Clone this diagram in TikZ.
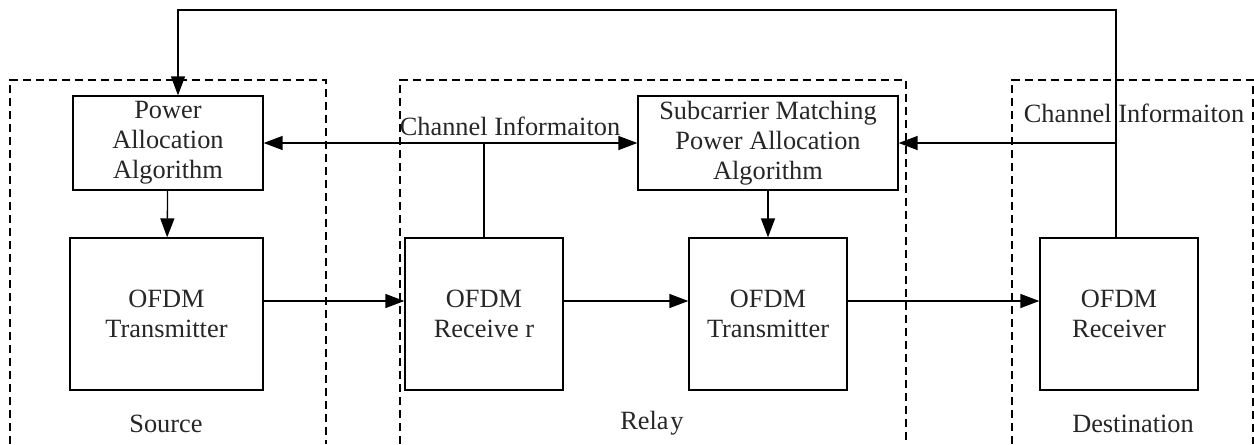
\documentclass[tikz,border=0pt]{standalone}
\usepackage{fontspec}
\setmainfont{Liberation Serif}
\usetikzlibrary{arrows.meta,calc}
\begin{document}
\begin{tikzpicture}[x=0.02cm,y=-0.02cm,
  font=\fontsize{15}{17}\selectfont,
  blk/.style={draw,line width=0.75pt,align=center,inner sep=0pt,text=black!85},
  grp/.style={draw,line width=0.75pt,dash pattern=on 0.16cm off 0.1cm},
  arr/.style={line width=0.75pt,-{Triangle[length=0.38cm,width=0.28cm]}},
  ln/.style={line width=0.75pt},
  lbl/.style={text=black!85,inner sep=0pt}]
\useasboundingbox (0,0) rectangle (1254,444);
% groups
\draw[grp] (10,444) -- (10,80) -- (326,80) -- (326,444);
\draw[grp] (400,444) -- (400,80) -- (906,80) -- (906,444);
\draw[grp] (1012,444) -- (1012,80) -- (1253,80) -- (1253,444);
% blocks
\node[blk,minimum width=3.8cm,minimum height=1.88cm] (PA) at (168,143) {Power\\Allocation\\Algorithm};
\node[blk,minimum width=3.86cm,minimum height=3.04cm] (sTx) at (166.5,314) {OFDM\\Transmitter};
\node[blk,minimum width=5.2cm,minimum height=1.88cm] (SM) at (768,143) {Subcarrier Matching\\Power Allocation\\Algorithm};
\node[blk,minimum width=3.16cm,minimum height=3.04cm] (rRx) at (484,314) {OFDM\\Receive r};
\node[blk,minimum width=3.16cm,minimum height=3.04cm] (rTx) at (768,314) {OFDM\\Transmitter};
\node[blk,minimum width=3.16cm,minimum height=3.04cm] (dRx) at (1119,314) {OFDM\\Receiver};
% labels
\node[lbl] (l1) at (510,126) {Channel Informaiton};
\node[lbl] (l2) at (1134,113) {Channel Informaiton};
\node[lbl] (s) at (166,424) {Source};
\node[lbl] (r) at (652,423) {Rela\kern1pt y};
\node[lbl] (d) at (1133,424) {Destination};
% connectors
\coordinate (hy) at (0,301);
\draw[arr] (PA) -- (sTx);
\draw[arr] (SM) -- (rTx);
\draw[arr] (sTx.east |- hy) -- (rRx.west |- hy);
\draw[arr] (rRx.east |- hy) -- (rTx.west |- hy);
\draw[arr] (rTx.east |- hy) -- (dRx.west |- hy);
\draw[ln] (rRx.north) -- (rRx.north |- PA.east) coordinate (j);
\draw[arr] (j) -- (PA.east);
\draw[arr] (j) -- (SM.west);
\coordinate (ctop) at (178,10);
\coordinate (cr) at (1116,238);
\draw[arr] (cr) |- (ctop) -- (ctop |- PA.north);
\draw[arr] (cr |- SM.east) -- (SM.east);
\end{tikzpicture}
\end{document}
